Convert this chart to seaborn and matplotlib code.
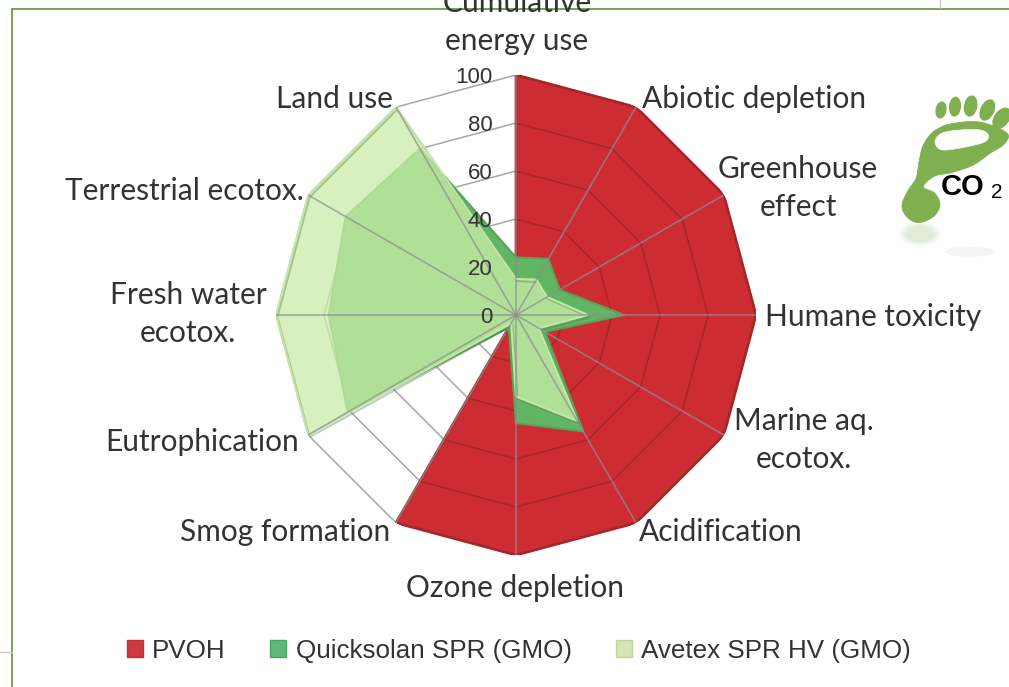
import numpy as np
import pandas as pd
import seaborn as sns
import matplotlib
matplotlib.use("Agg")
import matplotlib.pyplot as plt
import matplotlib.patheffects as pe
from matplotlib.patches import Polygon, Ellipse, Patch
from matplotlib.lines import Line2D

categories = ["Cumulative\nenergy use", "Abiotic depletion", "Greenhouse\neffect", "Humane toxicity",
              "Marine aq.\necotox.", "Acidification", "Ozone depletion", "Smog formation",
              "Eutrophication", "Fresh water\necotox.", "Terrestrial ecotox.", "Land use"]
pvoh = [100, 100, 100, 100, 100, 100, 100, 100, 0, 0, 0, 0]
quicksolan = [24, 27, 21, 45, 14, 56, 45, 6, 81, 78, 82, 80]
avetex = [15, 17, 15, 30, 11, 51, 34, 4, 100, 100, 100, 100]
series_names = ["PVOH", "Quicksolan SPR (GMO)", "Avetex SPR HV (GMO)"]
r_ticks = [0, 20, 40, 60, 80, 100]
label_px = [(517, 22), (754, 99), (798, 188), (873, 317), (804, 440), (721, 532), (515, 588),
            (285, 532), (202, 442), (188, 314), (184, 191), (334, 99)]

W, H = 1009, 687
sns.set_theme(style="white")
plt.rcParams["font.family"] = ["Lato", "DejaVu Sans"]
fig = plt.figure(figsize=(W / 100, H / 100), dpi=100, facecolor="white")
cx, cy, R = 516, 315, 240
ax = fig.add_axes([(cx - R) / W, (H - cy - R) / H, 2 * R / W, 2 * R / H], projection="polar")
ax.set_theta_zero_location("N")
ax.set_theta_direction(-1)
ax.set_ylim(0, 100)
ax.grid(False)
ax.spines["polar"].set_visible(False)
ax.patch.set_alpha(0)

theta = np.deg2rad(np.arange(len(categories)) * 360 / len(categories))
th_c = np.append(theta, theta[0])
closed = lambda v: np.append(v, v[0])

def draw(values, face, alpha, edge, lw, z, shadow=False):
    ax.fill(th_c, closed(values), color=face, alpha=alpha, lw=0, zorder=z)
    d = pd.DataFrame({"t": th_c, "r": closed(values)})
    g = sns.lineplot(data=d, x="t", y="r", sort=False, estimator=None, color=edge, lw=lw, ax=ax, zorder=z + 0.1,
                     legend=False)
    if shadow:
        g.lines[-1].set_path_effects([pe.SimpleLineShadow(offset=(1, -1.5), shadow_color="#4f6b4f", alpha=0.35),
                                      pe.Normal()])

# rings behind the data
for r in r_ticks[1:]:
    d = pd.DataFrame({"t": th_c, "r": np.full(len(th_c), r)})
    sns.lineplot(data=d, x="t", y="r", sort=False, estimator=None, color="#a6a6a6", lw=1.1, ax=ax, zorder=1,
                 legend=False)

p_arr = np.array(pvoh, float)
draw(p_arr, "#CD2D32", 1.0, "#A92A2D", 2.0, 2)
# the rings show through the red fill as a darker red
for r in r_ticks[1:]:
    for i in range(len(theta)):
        j = (i + 1) % len(theta)
        if p_arr[i] >= r and p_arr[j] >= r:
            ax.plot([theta[i], theta[j]], [r, r], color="#A5252A", lw=1.1, zorder=2.5)
draw(np.array(quicksolan, float), "#62B565", 1.0, "#56A55A", 1.5, 3)
draw(np.array(avetex, float), "#C9EDA8", 0.76, "#C4E6A6", 1.5, 4, shadow=True)

# spokes on top
for t in theta:
    ax.plot([t, t], [0, 100], color="#8e8e8e", alpha=0.72, lw=1.2, zorder=5)

ax.set_xlabel(""); ax.set_ylabel("")
ax.set_xticks([]); ax.set_yticks([])
ax.set_ylim(0, 100)

for r in r_ticks:
    ax.annotate(str(r), (0, r), xytext=(-17, -1.5), textcoords="offset points", ha="right", va="center",
                fontsize=16, color="#333333", family="Liberation Sans", zorder=6)

for c, (x, y) in zip(categories, label_px):
    fig.text(x / W, 1 - y / H, c, ha="center", va="center", fontsize=21.5, color="#333333",
             linespacing=1.4, zorder=8)

# overlay in pixel coordinates
ov = fig.add_axes([0, 0, 1, 1], facecolor="none")
ov.set_xlim(0, W); ov.set_ylim(H, 0); ov.axis("off")
ov.add_line(Line2D([12, 1009], [9, 9], color="#7DA052", lw=1.4))
ov.add_line(Line2D([12, 12], [9, 687], color="#7DA052", lw=1.4))
ov.add_line(Line2D([940, 940], [0, 8], color="#c8c8c8", lw=1))
ov.add_line(Line2D([0, 12], [652, 652], color="#c8c8c8", lw=1))

# footprint logo
green = "#7FAF4F"
zx = lambda x: 880 + x / 3
zy = lambda y: 80 + y / 3

def smooth(pts, n=12):
    p = np.array(pts, float)
    out = []
    m = len(p)
    for i in range(m):
        a, b, c, d = p[i - 1], p[i], p[(i + 1) % m], p[(i + 2) % m]
        for s in np.linspace(0, 1, n, endpoint=False):
            out.append(0.5 * (2 * b + (c - a) * s + (2 * a - 5 * b + 4 * c - d) * s ** 2
                              + (3 * b - a - 3 * c + d) * s ** 3))
    return [(zx(x), zy(y)) for x, y in out]

for (a, b, w, h, ang) in [(183, 90, 33, 52, 10), (225, 80, 36, 60, 5), (272, 78, 40, 64, 10),
                          (322, 90, 42, 68, 25), (365, 115, 46, 72, 35)]:
    ov.add_patch(Ellipse((zx(a), zy(b)), w / 3, h / 3, angle=ang, color=green, lw=0))
body = [(66, 375), (85, 330), (108, 295), (118, 240), (130, 195), (160, 155), (210, 132), (290, 125),
        (350, 142), (385, 165), (370, 195), (330, 220), (280, 255), (215, 278), (165, 288), (130, 320),
        (165, 340), (180, 375), (160, 410), (115, 428), (80, 410)]
ov.add_patch(Polygon(smooth(body), closed=True, fc=green, ec=green, lw=0.5))
hole = [(165, 185), (185, 160), (240, 150), (300, 150), (325, 165), (315, 185), (270, 198), (215, 208), (180, 208)]
ov.add_patch(Polygon(smooth(hole), closed=True, fc="white", ec="white", lw=0.5))
ov.text(zx(182), zy(322), "CO", fontsize=21, fontweight="bold", color="black", family="Liberation Sans",
        ha="left", va="center")
ov.text(zx(332), zy(338), "2", fontsize=15, color="black", family="Liberation Sans", ha="left", va="center")
for a, al in [(0.07, 1.0), (0.08, 0.85), (0.08, 0.7)]:
    ov.add_patch(Ellipse((zx(120), zy(462)), 125 / 3 * al, 70 / 3 * al, color=green, alpha=a, lw=0))
ov.add_patch(Ellipse((zx(270), zy(515)), 150 / 3, 30 / 3, color="#cccccc", alpha=0.2, lw=0))

# legend
handles = [Patch(fc="#CE3A40", ec="#B93236"), Patch(fc="#5FB878", ec="#4FA065"), Patch(fc="#D4E6B5", ec="#BDD3A0")]
fig.legend(handles, series_names, loc="center", bbox_to_anchor=(519 / W, 1 - 651 / H), ncol=3, frameon=False,
           prop={"family": "Liberation Sans", "size": 18.7}, labelcolor="#333333", handlelength=0.62,
           handleheight=0.62, handletextpad=0.35, columnspacing=1.72)

fig.savefig("out.png", dpi=100)
